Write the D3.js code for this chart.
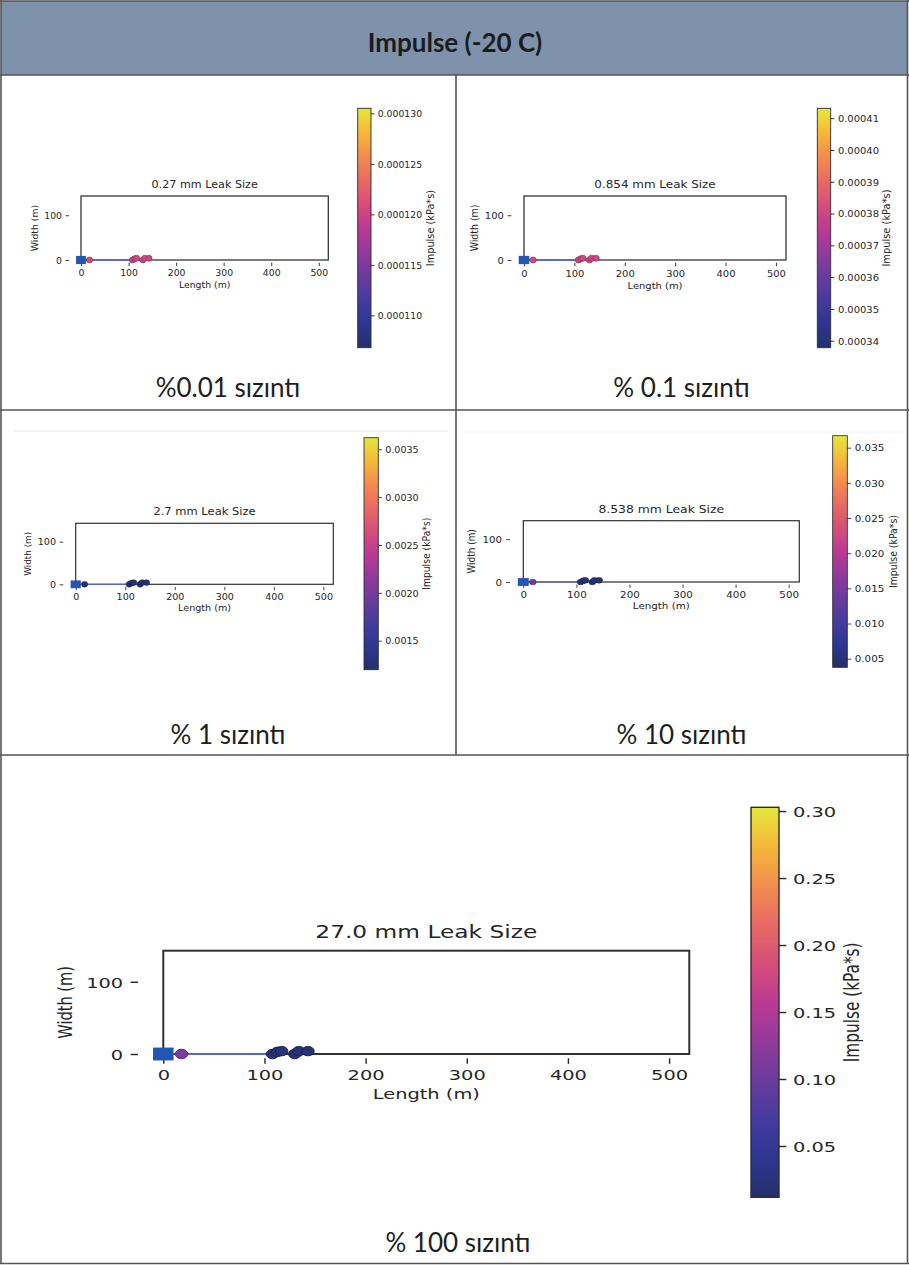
<!DOCTYPE html>
<html>
<head>
<meta charset="utf-8">
<script src="https://cdn.jsdelivr.net/npm/d3@7"></script>
<style>
  body { margin: 0; background: #fff; }
  svg { display: block; }
</style>
</head>
<body>
<svg id="chart" width="909" height="1265"></svg>
<script>
// ---- data -------------------------------------------------------------
const pageTitle = "Impulse (-20 C)";
const leakSizes = ["0.27", "0.854", "2.7", "8.538", "27.0"];
const leakCaptions = ["%0.01 sızıntı", "% 0.1 sızıntı", "% 1 sızıntı", "% 10 sızıntı", "% 100 sızıntı"];

// site outline (m)
const boxLength = [0, 520];
const boxWidth = [0, 143];
const lengthTicks = [0, 100, 200, 300, 400, 500];
const widthTicks = [0, 100];

// leak source and pipe run (m)
const sourceLength = [0];
const sourceWidth = [0];
const pipeLength = [0, 108];
const pipeWidth = [0, 0];

// receptor points (m)
const sensorLength = [18, 108, 113, 117, 130, 134, 143];
const sensorWidth = [0, 0, 3, 4, 0, 4, 4];

// impulse at each receptor (kPa*s)
const impulse001 = [0.0001203, 0.0001201, 0.0001204, 0.0001206, 0.0001200, 0.0001205, 0.0001202];
const impulse01 = [0.0003808, 0.0003804, 0.0003810, 0.0003814, 0.0003802, 0.0003812, 0.0003806];
const impulse1 = [0.00126, 0.00125, 0.00126, 0.00127, 0.00124, 0.00126, 0.00125];
const impulse10 = [0.0137, 0.0049, 0.0051, 0.0052, 0.0048, 0.0050, 0.0049];
const impulse100 = [0.112, 0.021, 0.022, 0.023, 0.020, 0.022, 0.021];

// colour bar ranges and ticks
const cbRange001 = [0.0001068, 0.0001305];
const cbRange01 = [0.0003378, 0.0004131];
const cbRange1 = [0.001197, 0.003621];
const cbRange10 = [0.00378, 0.0367];
const cbRange100 = [0.0117, 0.3028];
const cbTicks001 = [0.000110, 0.000115, 0.000120, 0.000125, 0.000130];
const cbTicks01 = [0.00034, 0.00035, 0.00036, 0.00037, 0.00038, 0.00039, 0.00040, 0.00041];
const cbTicks1 = [0.0015, 0.0020, 0.0025, 0.0030, 0.0035];
const cbTicks10 = [0.005, 0.010, 0.015, 0.020, 0.025, 0.030, 0.035];
const cbTicks100 = [0.05, 0.10, 0.15, 0.20, 0.25, 0.30];

// colour map, low to high
const cmapStops = ["#24306a", "#2c3792", "#463b9e", "#6a3b9e", "#923a9c", "#bb3a93",
                   "#d64e7a", "#e86a64", "#f28d4e", "#f5b83a", "#e3e83e"];

// ---- layout -----------------------------------------------------------
const panels = [
  { values: impulse001, range: cbRange001, ticks: cbTicks001, fmt: ".6f",
    box: [81, 328.3, 196, 260], cb: [357.7, 371, 108.3, 347.7], cbLabelX: 430.7,
    fs: 9.3, sx: 1.0, capX: 228, capY: 397 },
  { values: impulse01, range: cbRange01, ticks: cbTicks01, fmt: ".5f",
    box: [524, 786, 196, 260], cb: [817.3, 830.7, 108.3, 347.7], cbLabelX: 886.7,
    fs: 9.4, sx: 1.06, capX: 681.5, capY: 397 },
  { values: impulse1, range: cbRange1, ticks: cbTicks1, fmt: ".4f",
    box: [75.7, 333.3, 523.3, 584.3], cb: [364, 378.3, 437.7, 669.7], cbLabelX: 426.7,
    fs: 8.8, sx: 1.09, capX: 228, capY: 744 },
  { values: impulse10, range: cbRange10, ticks: cbTicks10, fmt: ".3f",
    box: [523.3, 799.3, 520.7, 582], cb: [832.7, 847.3, 435.7, 667.3], cbLabelX: 893.3,
    fs: 8.9, sx: 1.16, capX: 681.5, capY: 744 },
  { values: impulse100, range: cbRange100, ticks: cbTicks100, fmt: ".2f",
    box: [163.3, 689.3, 950.7, 1054], cb: [751, 779, 807.3, 1197.3], cbLabelX: 852,
    fs: 14.6, sx: 1.33, capX: 458, capY: 1252 }
];

const W = 909, H = 1265;
const svg = d3.select("#chart");
const mplFont = "'DejaVu Sans', sans-serif";
const pageFont = "Lato, 'Open Sans', sans-serif";
const ink = "#262626";

svg.append("rect").attr("width", W).attr("height", H).attr("fill", "#fff");

// colour map and gradient
const cmap = d3.scaleLinear()
  .domain(cmapStops.map((c, i) => i / (cmapStops.length - 1)))
  .range(cmapStops)
  .interpolate(d3.interpolateRgb)
  .clamp(true);

const defs = svg.append("defs");
const grad = defs.append("linearGradient")
  .attr("id", "cmapGrad")
  .attr("x1", 0).attr("y1", 1).attr("x2", 0).attr("y2", 0);
grad.selectAll("stop").data(cmapStops).join("stop")
  .attr("offset", (d, i) => i / (cmapStops.length - 1))
  .attr("stop-color", d => d);

// header band
svg.append("rect")
  .attr("x", 1).attr("y", 1).attr("width", 906).attr("height", 74)
  .attr("fill", "#7e93ab");
svg.append("text")
  .attr("x", 455).attr("y", 52)
  .attr("text-anchor", "middle")
  .attr("font-family", pageFont).attr("font-weight", 700)
  .attr("font-size", 26).attr("fill", "#1c1c1c")
  .text(pageTitle);

// faint rule lines near the top of the middle row
svg.append("line").attr("x1", 14).attr("x2", 448).attr("y1", 431).attr("y2", 431)
  .attr("stroke", "#ececec").attr("stroke-width", 1);
svg.append("line").attr("x1", 462).attr("x2", 904).attr("y1", 432).attr("y2", 432)
  .attr("stroke", "#f1f1f1").attr("stroke-width", 1);

// table grid
const grid = svg.append("g").attr("stroke", "#555").attr("stroke-width", 1.6).attr("fill", "none");
[1, 75, 410, 755, 1263.5].forEach(yy => grid.append("line").attr("x1", 0).attr("x2", W).attr("y1", yy).attr("y2", yy));
grid.append("line").attr("x1", 1).attr("x2", 1).attr("y1", 0).attr("y2", 1264);
grid.append("line").attr("x1", 907.5).attr("x2", 907.5).attr("y1", 0).attr("y2", 1264);
grid.append("line").attr("x1", 456).attr("x2", 456).attr("y1", 75).attr("y2", 755);

// stretched text helper
function stretchText(sel, tx, ty, sx, rot) {
  return sel.attr("x", 0).attr("y", 0)
    .attr("transform", `translate(${tx},${ty}) scale(${sx},1)` + (rot ? ` rotate(${rot})` : ""));
}

panels.forEach((p, i) => {
  const u = p.fs / 9.3;
  const ux = u * p.sx;
  const g = svg.append("g");

  const x = d3.scaleLinear().domain(boxLength).range([p.box[0], p.box[1]]);
  const y = d3.scaleLinear().domain(boxWidth).range([p.box[3], p.box[2]]);

  // site outline
  g.append("rect")
    .attr("x", x(boxLength[0])).attr("y", y(boxWidth[1]))
    .attr("width", x(boxLength[1]) - x(boxLength[0]))
    .attr("height", y(boxWidth[0]) - y(boxWidth[1]))
    .attr("fill", "none").attr("stroke", "#2e2e2e").attr("stroke-width", 1.25 * u);

  // axes (spines hidden, ticks only)
  const xAxis = d3.axisBottom(x).tickValues(lengthTicks).tickFormat(d3.format("d"))
    .tickSize(3.5 * u).tickPadding(3.2 * u);
  const gx = g.append("g").attr("transform", `translate(0,${y(-6)})`).call(xAxis);
  const yAxis = d3.axisLeft(y).tickValues(widthTicks).tickFormat(d3.format("d"))
    .tickSize(3.5 * ux).tickPadding(3.6 * ux);
  const gy = g.append("g").attr("transform", `translate(${x(-25)},0)`).call(yAxis);

  [gx, gy].forEach(ax => {
    ax.select(".domain").remove();
    ax.selectAll(".tick line").attr("stroke", ink).attr("stroke-width", 0.9 * u);
    ax.selectAll(".tick text")
      .attr("font-family", mplFont).attr("font-size", p.fs).attr("fill", ink);
  });
  gx.selectAll(".tick text").each(function () {
    const t = d3.select(this);
    const ty = +t.attr("y");
    t.attr("dy", null);
    stretchText(t, 0, ty + 0.76 * p.fs, p.sx);
  });
  gy.selectAll(".tick text").each(function () {
    const t = d3.select(this);
    const tx = +t.attr("x");
    t.attr("dy", "0.36em");
    stretchText(t, tx, 0, p.sx);
  });

  // axis labels and title
  stretchText(g.append("text"), (p.box[0] + p.box[1]) / 2, y(-6) + 25.6 * u, p.sx)
    .attr("text-anchor", "middle").attr("font-family", mplFont)
    .attr("font-size", p.fs).attr("fill", ink).text("Length (m)");
  stretchText(g.append("text"), x(-25) - 31.5 * ux, (p.box[2] + p.box[3]) / 2, p.sx, -90)
    .attr("text-anchor", "middle").attr("font-family", mplFont)
    .attr("font-size", p.fs).attr("fill", ink).text("Width (m)");
  stretchText(g.append("text"), (p.box[0] + p.box[1]) / 2, p.box[2] - 8.3 * u, p.sx)
    .attr("text-anchor", "middle").attr("font-family", mplFont)
    .attr("font-size", p.fs * 1.2).attr("fill", ink)
    .text(`${leakSizes[i]} mm Leak Size`);

  // pipe run
  g.append("path")
    .datum(pipeLength.map((d, k) => [d, pipeWidth[k]]))
    .attr("d", d3.line().x(d => x(d[0])).y(d => y(d[1])))
    .attr("fill", "none").attr("stroke", "#5466cc").attr("stroke-width", 1.3 * u);

  // leak source
  const sq = 8.2 * u;
  g.selectAll("rect.src").data(sourceLength.map((d, k) => [d, sourceWidth[k]])).join("rect")
    .attr("class", "src")
    .attr("x", d => x(d[0]) - sq * p.sx * 0.6)
    .attr("y", d => y(d[1]) - sq / 2)
    .attr("width", sq * p.sx * 1.2).attr("height", sq)
    .attr("fill", "#2157b3");

  // receptors coloured by impulse
  const norm = v => (v - p.range[0]) / (p.range[1] - p.range[0]);
  const ry = 3.0 * u;
  g.selectAll("ellipse.pt").data(sensorLength.map((d, k) => [d, sensorWidth[k], p.values[k]])).join("ellipse")
    .attr("class", "pt")
    .attr("cx", d => x(d[0])).attr("cy", d => y(d[1]))
    .attr("rx", ry * p.sx).attr("ry", ry)
    .attr("fill", d => cmap(norm(d[2])))
    .attr("stroke", d => d3.color(cmap(norm(d[2]))).darker(1.4))
    .attr("stroke-width", 0.6 * u);

  // colour bar
  const cbs = d3.scaleLinear().domain(p.range).range([p.cb[3], p.cb[2]]);
  g.append("rect")
    .attr("x", p.cb[0]).attr("y", p.cb[2])
    .attr("width", p.cb[1] - p.cb[0]).attr("height", p.cb[3] - p.cb[2])
    .attr("fill", "url(#cmapGrad)")
    .attr("stroke", "#2e2e2e").attr("stroke-width", 0.9 * u);
  const cAxis = d3.axisRight(cbs).tickValues(p.ticks).tickFormat(d3.format(p.fmt))
    .tickSize(3.5 * ux).tickPadding(3.2 * ux);
  const gc = g.append("g").attr("transform", `translate(${p.cb[1]},0)`).call(cAxis);
  gc.select(".domain").remove();
  gc.selectAll(".tick line").attr("stroke", ink).attr("stroke-width", 0.9 * u);
  gc.selectAll(".tick text")
    .attr("font-family", mplFont).attr("font-size", p.fs).attr("fill", ink)
    .each(function () {
      const t = d3.select(this);
      const tx = +t.attr("x");
      t.attr("dy", "0.36em");
      stretchText(t, tx, 0, p.sx);
    });
  stretchText(g.append("text"), p.cbLabelX, (p.cb[2] + p.cb[3]) / 2, p.sx, -90)
    .attr("text-anchor", "middle").attr("dy", "0.35em")
    .attr("font-family", mplFont).attr("font-size", p.fs * 1.05).attr("fill", ink)
    .text("Impulse (kPa*s)");

  // caption
  svg.append("text")
    .attr("x", p.capX).attr("y", p.capY)
    .attr("text-anchor", "middle")
    .attr("font-family", pageFont).attr("font-size", 26).attr("fill", "#1e1e1e")
    .text(leakCaptions[i]);
});
</script>
</body>
</html>
